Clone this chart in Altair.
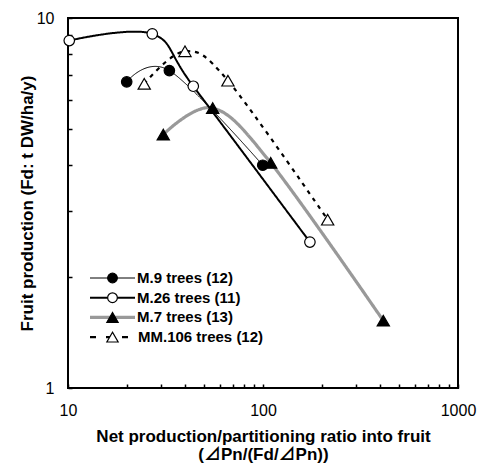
import altair as alt
import pandas as pd

series_names = ["M.9 trees (12)", "M.26 trees (11)", "M.7 trees (13)", "MM.106 trees (12)"]

m9_x = [20.0, 33.1, 99.7]
m9_y = [6.72, 7.21, 4.00]
m26_x = [10.15, 27.05, 43.9, 174.0]
m26_y = [8.69, 9.06, 6.54, 2.48]
m7_x = [30.8, 55.2, 109.5, 414.0]
m7_y = [4.84, 5.71, 4.06, 1.52]
mm106_x = [24.6, 39.8, 66.1, 214.6]
mm106_y = [6.64, 8.13, 6.77, 2.85]

x_ticks = [10, 20, 30, 40, 50, 60, 70, 80, 90,
           100, 200, 300, 400, 500, 600, 700, 800, 900, 1000]
y_ticks = [1, 2, 3, 4, 5, 6, 7, 8, 9, 10]

# styles: (line color, line width, dash, marker shape, marker fill, marker size)
styles = {
    series_names[0]: ("black", 1.0, [1, 0], "circle", "black", 110),
    series_names[1]: ("black", 2.0, [1, 0], "circle", "white", 110),
    series_names[2]: ("#999999", 3.2, [1, 0], "triangle-up", "black", 150),
    series_names[3]: ("black", 2.2, [4, 5], "triangle-up", "white", 150),
}
legend_dash = {series_names[3]: [6, 10]}

data_by_series = {
    series_names[0]: (m9_x, m9_y),
    series_names[1]: (m26_x, m26_y),
    series_names[2]: (m7_x, m7_y),
    series_names[3]: (mm106_x, mm106_y),
}

FONT = "Liberation Sans, Noto Sans CJK JP"

xaxis = alt.Axis(
    values=x_ticks,
    labelExpr="(datum.value == 10 || datum.value == 100 || datum.value == 1000) ? format(datum.value, 'd') : ''",
    tickSize=4, offset=-4, domain=False, grid=False, tickColor="black", tickWidth=1.5,
    labelPadding=14, labelFontSize=16, labelFont=FONT, labelColor="black",
    labelFlush=False, labelOverlap=False,
    title=["Net production/partitioning ratio into fruit", "(⊿Pn/(Fd/⊿Pn))"],
    titleFont=FONT, titleFontSize=17, titleFontWeight="bold", titleColor="black",
    titlePadding=10, titleLineHeight=18,
)
yaxis = alt.Axis(
    values=y_ticks,
    labelExpr="(datum.value == 1 || datum.value == 10) ? format(datum.value, 'd') : ''",
    tickSize=4, offset=-4, domain=False, grid=False, tickColor="black", tickWidth=1.5,
    labelPadding=14, labelFontSize=16, labelFont=FONT, labelColor="black",
    labelFlush=False, labelOverlap=False,
    title="Fruit production (Fd: t DW/ha/y)",
    titleFont=FONT, titleFontSize=17, titleFontWeight="bold", titleColor="black",
    titlePadding=0,
)

xs = alt.Scale(type="log", domain=[10, 1000])
ys = alt.Scale(type="log", domain=[1, 10])

line_layers = []
point_layers = []
draw_order = [series_names[2], series_names[0], series_names[1], series_names[3]]
first = True
for name in draw_order:
    col, sw, dash, shape, fill, size = styles[name]
    xv, yv = data_by_series[name]
    d = pd.DataFrame({"x": xv, "y": yv, "series": [name] * len(xv)})
    if first:
        enc_x = alt.X("x:Q", scale=xs, axis=xaxis)
        enc_y = alt.Y("y:Q", scale=ys, axis=yaxis)
        first = False
    else:
        enc_x = alt.X("x:Q", scale=xs)
        enc_y = alt.Y("y:Q", scale=ys)
    line_layers.append(
        alt.Chart(d).mark_line(interpolate="cardinal", color=col, strokeWidth=sw, strokeDash=dash)
        .encode(x=enc_x, y=enc_y)
    )
    point_layers.append(
        alt.Chart(d).mark_point(shape=shape, filled=True, fill=fill, stroke="black",
                                strokeWidth=1.2, size=size, opacity=1)
        .encode(x=alt.X("x:Q", scale=xs), y=alt.Y("y:Q", scale=ys))
    )

# manual legend (pixel layout inside the plot area)
LEG_X0, LEG_X1, LEG_MX, LEG_TX = 22, 67, 44.5, 69
LEG_Y0, LEG_DY = 260, 19.7
legend_layers = []
for i, name in enumerate(series_names):
    col, sw, dash, shape, fill, size = styles[name]
    ld = pd.DataFrame({"label": [name]})
    yy = LEG_Y0 + i * LEG_DY
    x1 = 128 - 68 if name in legend_dash else LEG_X1
    legend_layers.append(
        alt.Chart(ld).mark_rule(color=col, strokeWidth=sw, strokeDash=legend_dash.get(name, [1, 0]))
        .encode(x=alt.value(LEG_X0), x2=alt.value(x1), y=alt.value(yy))
    )
    legend_layers.append(
        alt.Chart(ld).mark_point(shape=shape, filled=True, fill=fill, stroke="black",
                                 strokeWidth=1.2, size=size * 0.85, opacity=1)
        .encode(x=alt.value(LEG_MX), y=alt.value(yy))
    )
    legend_layers.append(
        alt.Chart(ld).mark_text(align="left", baseline="middle", font=FONT, fontSize=15,
                                fontWeight="bold", color="black")
        .encode(x=alt.value(LEG_TX + (1 if name in legend_dash else 0)), y=alt.value(yy), text="label:N")
    )

chart = alt.layer(*line_layers, *point_layers, *legend_layers).properties(
    width=390, height=370,
    padding={"left": 68, "top": 18, "right": 23, "bottom": 77},
    autosize=alt.AutoSizeParams(type="none"),
    background="white",
).configure_view(stroke="black", strokeWidth=2)

chart.save("out.html", embed_options={"renderer": "svg", "actions": False})
